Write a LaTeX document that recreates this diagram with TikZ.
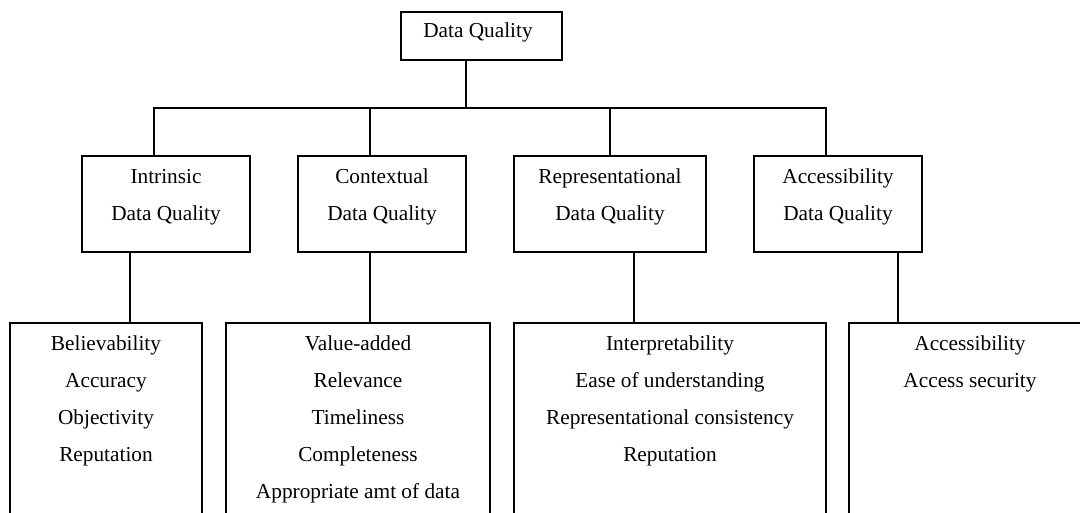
\documentclass[tikz,border=0pt]{standalone}
\usepackage{fontspec}
\setmainfont{Liberation Serif}
\begin{document}
\begin{tikzpicture}[x=1pt,y=-1pt,
  box/.style={draw, line width=2.2pt, inner sep=0pt, outer sep=0pt},
  lab/.style={font=\fontsize{21.3}{37}\selectfont, align=center, inner sep=0pt, anchor=base},
  conn/.style={line width=2.2pt, line join=miter}]
\useasboundingbox (0,0) rectangle (1080,512);
\clip (0,0) rectangle (1080,512);
% top
\node[box, minimum width=161pt, minimum height=48pt] (top) at (481.5,36) {};
\node[lab] (toplab) at (478,37) {Data Quality};
% middle boxes (label anchor = baseline of last line)
\node[box, minimum width=168pt, minimum height=96pt] (m1) at (166,204) {};
\node[box, minimum width=168pt, minimum height=96pt] (m2) at (382,204) {};
\node[box, minimum width=192pt, minimum height=96pt] (m3) at (610,204) {};
\node[box, minimum width=168pt, minimum height=96pt] (m4) at (838,204) {};
\node[lab] (m1lab) at (166,220) {Intrinsic\\Data Quality};
\node[lab] (m2lab) at (382,220) {Contextual\\Data Quality};
\node[lab] (m3lab) at (610,220) {Representational\\Data Quality};
\node[lab] (m4lab) at (838,220) {Accessibility\\Data Quality};
% bottom boxes
\node[box, minimum width=192pt, minimum height=217pt] (b1) at (106,431.5) {};
\node[box, minimum width=264pt, minimum height=217pt] (b2) at (358,431.5) {};
\node[box, minimum width=312pt, minimum height=217pt] (b3) at (670,431.5) {};
\node[box, minimum width=242pt, minimum height=217pt] (b4) at (970,431.5) {};
\node[lab] (b1lab) at (106,461) {Believability\\Accuracy\\Objectivity\\Reputation};
\node[lab] (b2lab) at (358,498) {Value-added\\Relevance\\Timeliness\\Completeness\\Appropriate amt of data};
\node[lab] (b3lab) at (670,461) {Interpretability\\Ease of understanding\\Representational consistency\\Reputation};
\node[lab] (b4lab) at (970,387) {Accessibility\\Access security};
% connectors top
\coordinate (j) at (466,108);
\coordinate (h1) at (154,108);
\coordinate (h2) at (370,108);
\coordinate (h3) at (610,108);
\coordinate (h4) at (826,108);
\draw[conn] (top.south -| j) -- (j);
\draw[conn] (m1.north -| h1) -- (h1) -- (h4) -- (m4.north -| h4);
\draw[conn] (h2) -- (m2.north -| h2);
\draw[conn] (h3) -- (m3.north -| h3);
% connectors lower
\coordinate (c1) at (130,290);
\coordinate (c2) at (370,290);
\coordinate (c3) at (634,290);
\coordinate (c4) at (898,290);
\draw[conn] (m1.south -| c1) -- (b1.north -| c1);
\draw[conn] (m2.south -| c2) -- (b2.north -| c2);
\draw[conn] (m3.south -| c3) -- (b3.north -| c3);
\draw[conn] (m4.south -| c4) -- (b4.north -| c4);
\end{tikzpicture}
\end{document}
